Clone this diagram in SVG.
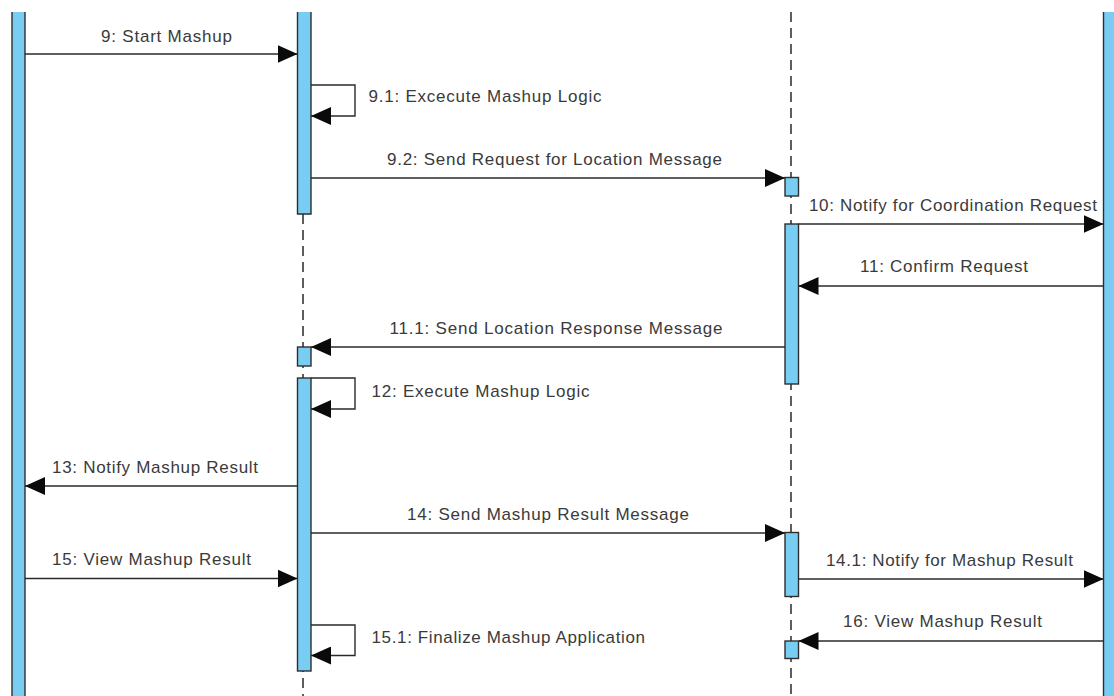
<svg xmlns="http://www.w3.org/2000/svg" width="1114" height="696" viewBox="0 0 1114 696">
<style>
.bg{fill:#ffffff}
.bar{fill:#79CCF2}
.edge{fill:none;stroke:#2e2e2e;stroke-width:1.4}
.act{fill:#79CCF2;stroke:#2e2e2e;stroke-width:1.4}
.life{fill:none;stroke:#1a1a1a;stroke-width:1.4;stroke-dasharray:10 6}
.msg{fill:none;stroke:#2a2a2a;stroke-width:1.4}
.lbl{font-family:"Liberation Sans",Arial,sans-serif;font-size:17px;fill:#3a3a3a}
</style>
<defs>
<marker id="arr" viewBox="0 0 20 18" refX="20" refY="9" markerWidth="20" markerHeight="18" orient="auto" markerUnits="userSpaceOnUse">
<path d="M0,0 L20,9 L0,18 z" fill="#0a0a0a"/>
</marker>
</defs>
<rect class="bg" x="0" y="0" width="1114" height="696"/>

<g id="lifeline-1">
<rect class="bar" x="12" y="12" width="13" height="690"/>
<path class="edge" d="M12,12 V696 M25,12 V696"/>
</g>

<g id="lifeline-2">
<line class="life" x1="303" y1="214" x2="303" y2="696"/>
<rect class="bar" x="297.5" y="12" width="13.5" height="202"/>
<path class="edge" d="M297.5,12 V214 H311 V12"/>
<rect class="act" x="297.5" y="347" width="13.5" height="19"/>
<rect class="act" x="297.5" y="378" width="13.5" height="293"/>
</g>

<g id="lifeline-3">
<line class="life" x1="791" y1="12" x2="791" y2="696"/>
<rect class="act" x="785" y="177.5" width="13.5" height="18.5"/>
<rect class="act" x="785" y="224" width="13.5" height="160"/>
<rect class="act" x="785" y="532.5" width="13.5" height="64"/>
<rect class="act" x="785" y="641" width="13.5" height="17.5"/>
</g>

<g id="lifeline-4">
<rect class="bar" x="1103.5" y="12" width="14" height="690"/>
<path class="edge" d="M1103.5,12 V696"/>
</g>

<g id="connectors">
<line class="msg" x1="25" y1="54" x2="297.5" y2="54" marker-end="url(#arr)"/>
<polyline class="msg" points="311,85 355,85 355,116 311,116" marker-end="url(#arr)"/>
<line class="msg" x1="311" y1="178" x2="785" y2="178" marker-end="url(#arr)"/>
<line class="msg" x1="798.5" y1="224" x2="1103.5" y2="224" marker-end="url(#arr)"/>
<line class="msg" x1="1103.5" y1="286" x2="798.5" y2="286" marker-end="url(#arr)"/>
<line class="msg" x1="785" y1="347" x2="311" y2="347" marker-end="url(#arr)"/>
<polyline class="msg" points="311,378 355,378 355,409 311,409" marker-end="url(#arr)"/>
<line class="msg" x1="297.5" y1="486" x2="25" y2="486" marker-end="url(#arr)"/>
<line class="msg" x1="311" y1="533" x2="785" y2="533" marker-end="url(#arr)"/>
<line class="msg" x1="25" y1="578.5" x2="297.5" y2="578.5" marker-end="url(#arr)"/>
<line class="msg" x1="798.5" y1="579" x2="1103.5" y2="579" marker-end="url(#arr)"/>
<polyline class="msg" points="311,625 355,625 355,655.5 311,655.5" marker-end="url(#arr)"/>
<line class="msg" x1="1103.5" y1="641" x2="798.5" y2="641" marker-end="url(#arr)"/>
</g>

<g id="labels">
<text class="lbl" x="101" y="42" textLength="131" lengthAdjust="spacing">9: Start Mashup</text>
<text class="lbl" x="368.5" y="102" textLength="233" lengthAdjust="spacing">9.1: Excecute Mashup Logic</text>
<text class="lbl" x="387" y="165" textLength="335" lengthAdjust="spacing">9.2: Send Request for Location Message</text>
<text class="lbl" x="809" y="211" textLength="288" lengthAdjust="spacing">10: Notify for Coordination Request</text>
<text class="lbl" x="860" y="272" textLength="168" lengthAdjust="spacing">11: Confirm Request</text>
<text class="lbl" x="389.5" y="334" textLength="333" lengthAdjust="spacing">11.1: Send Location Response Message</text>
<text class="lbl" x="371.5" y="396.5" textLength="218" lengthAdjust="spacing">12: Execute Mashup Logic</text>
<text class="lbl" x="52" y="473" textLength="206" lengthAdjust="spacing">13: Notify Mashup Result</text>
<text class="lbl" x="407" y="520" textLength="282" lengthAdjust="spacing">14: Send Mashup Result Message</text>
<text class="lbl" x="826" y="565.5" textLength="247" lengthAdjust="spacing">14.1: Notify for Mashup Result</text>
<text class="lbl" x="52" y="565" textLength="199" lengthAdjust="spacing">15: View Mashup Result</text>
<text class="lbl" x="371.5" y="643" textLength="273.5" lengthAdjust="spacing">15.1: Finalize Mashup Application</text>
<text class="lbl" x="843" y="627" textLength="199" lengthAdjust="spacing">16: View Mashup Result</text>
</g>
</svg>
